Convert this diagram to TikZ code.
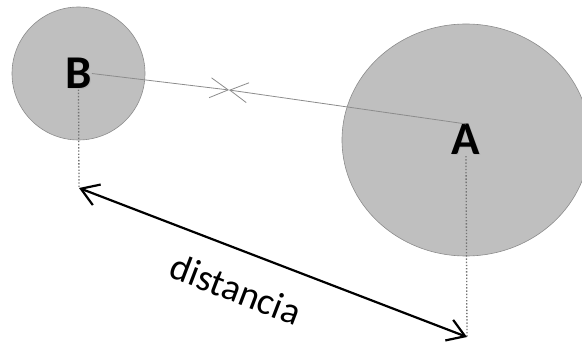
\documentclass[tikz,border=0pt]{standalone}
\usepackage{fontspec}
\setmainfont{Carlito}
\usetikzlibrary{arrows.meta,shapes.geometric,positioning}
\newcommand\softshadow[1]{\rlap{\kern1.2pt\raisebox{-1.2pt}{\textcolor{black!30}{#1}}}#1}

\begin{document}
\begin{tikzpicture}[x=1pt,y=1pt,
        body/.style={fill=black!25, draw=black!45, line width=0.6pt},
        letter/.style={font=\fontsize{47}{47}\selectfont\bfseries, inner sep=0pt},
        link/.style={draw=black!45, line width=0.8pt,
            -{Straight Barb[length=18pt,width=20pt,line width=0.8pt]}},
        drop/.style={draw=black!55, line width=1.3pt, dash pattern=on 1.4pt off 1.8pt},
        span/.style={line width=2.2pt,
            {Straight Barb[length=17pt,width=22pt]}-{Straight Barb[length=17pt,width=22pt]}}]
        \path[use as bounding box, clip] (0,0) rectangle (582,343);
        % Bodies
        \node[body, circle, minimum size=133] (cB) at (78.5,269.5) {};
        \node[body, ellipse, minimum width=248, minimum height=232] (cA) at (466,203) {};
        \node[letter] (B) at (cB.center) {\softshadow{B}};
        \node[letter] (A) at (cA.center) {\softshadow{A}};
        % Pull
        \coordinate (m) at (229,253);
        \draw[link] (B.east) -- (m);
        \draw[link] (A.north) -- (m);
        % Distance
        \coordinate (dB) at (79,155);
        \coordinate (dA) at (467,6);
        \draw[drop] (B.south) -- (dB);
        \draw[drop] (A.south) -- (dA);
        \draw[span] (dB) -- (dA)
            node[pos=0.44, sloped, yshift=-38pt, font=\fontsize{38}{38}\selectfont] (d) {distancia};
    \end{tikzpicture}
\end{document}
